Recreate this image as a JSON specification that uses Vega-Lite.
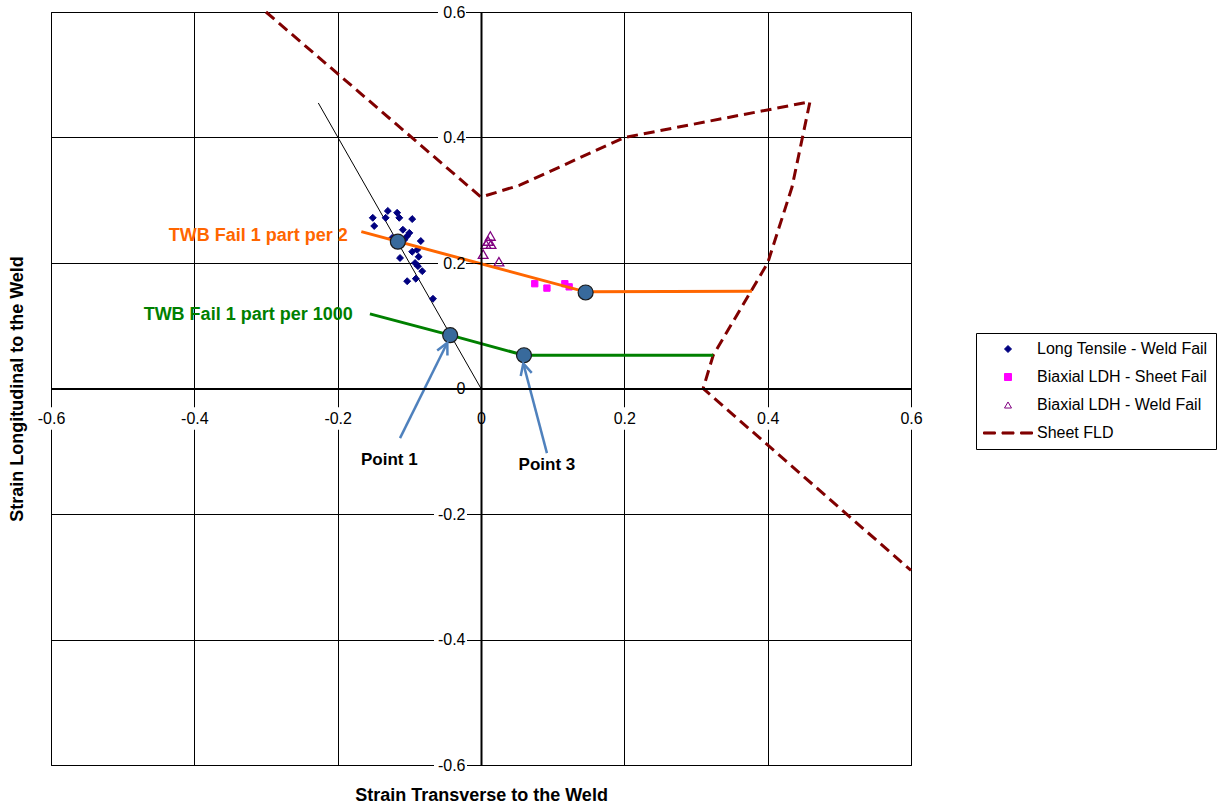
{
"$schema": "https://vega.github.io/schema/vega-lite/v6.json",
"width": 860, "height": 753,
"autosize": {"type": "none"},
"padding": {"left": 51, "top": 12, "right": 316, "bottom": 47},
"background": "white",
"config": {"view": {"stroke": "black", "strokeWidth": 1}, "font": "Liberation Sans"},
"datasets": {
 "ticks": [{"v": -0.6}, {"v": -0.4}, {"v": -0.2}, {"v": 0}, {"v": 0.2}, {"v": 0.4}, {"v": 0.6}],
 "fld": [
  {"i": 1, "x": -0.30, "y": 0.60},
  {"i": 2, "x": 0.0, "y": 0.305},
  {"i": 3, "x": 0.054, "y": 0.324},
  {"i": 4, "x": 0.20, "y": 0.40},
  {"i": 5, "x": 0.459, "y": 0.457},
  {"i": 6, "x": 0.434, "y": 0.321},
  {"i": 7, "x": 0.40, "y": 0.20},
  {"i": 8, "x": 0.324, "y": 0.053},
  {"i": 9, "x": 0.31, "y": 0.0},
  {"i": 10, "x": 0.60, "y": -0.29}
 ],
 "weld": [{"x": -0.227, "y": 0.455}, {"x": 0.0, "y": 0.0}],
 "scatter": [
  {"series": "Long Tensile - Weld Fail", "x": -0.151, "y": 0.272},
  {"series": "Long Tensile - Weld Fail", "x": -0.149, "y": 0.259},
  {"series": "Long Tensile - Weld Fail", "x": -0.130, "y": 0.283},
  {"series": "Long Tensile - Weld Fail", "x": -0.133, "y": 0.272},
  {"series": "Long Tensile - Weld Fail", "x": -0.117, "y": 0.280},
  {"series": "Long Tensile - Weld Fail", "x": -0.114, "y": 0.272},
  {"series": "Long Tensile - Weld Fail", "x": -0.096, "y": 0.270},
  {"series": "Long Tensile - Weld Fail", "x": -0.109, "y": 0.253},
  {"series": "Long Tensile - Weld Fail", "x": -0.100, "y": 0.248},
  {"series": "Long Tensile - Weld Fail", "x": -0.103, "y": 0.243},
  {"series": "Long Tensile - Weld Fail", "x": -0.084, "y": 0.235},
  {"series": "Long Tensile - Weld Fail", "x": -0.096, "y": 0.218},
  {"series": "Long Tensile - Weld Fail", "x": -0.089, "y": 0.221},
  {"series": "Long Tensile - Weld Fail", "x": -0.113, "y": 0.208},
  {"series": "Long Tensile - Weld Fail", "x": -0.087, "y": 0.210},
  {"series": "Long Tensile - Weld Fail", "x": -0.092, "y": 0.200},
  {"series": "Long Tensile - Weld Fail", "x": -0.088, "y": 0.195},
  {"series": "Long Tensile - Weld Fail", "x": -0.082, "y": 0.187},
  {"series": "Long Tensile - Weld Fail", "x": -0.103, "y": 0.171},
  {"series": "Long Tensile - Weld Fail", "x": -0.091, "y": 0.175},
  {"series": "Long Tensile - Weld Fail", "x": -0.067, "y": 0.143},
  {"series": "Long Tensile - Weld Fail", "x": -0.124, "y": 0.240},
  {"series": "Long Tensile - Weld Fail", "x": -0.107, "y": 0.237},
  {"series": "Biaxial LDH - Sheet Fail", "x": 0.075, "y": 0.167},
  {"series": "Biaxial LDH - Sheet Fail", "x": 0.092, "y": 0.160},
  {"series": "Biaxial LDH - Sheet Fail", "x": 0.117, "y": 0.167},
  {"series": "Biaxial LDH - Sheet Fail", "x": 0.123, "y": 0.162},
  {"series": "Biaxial LDH - Weld Fail", "x": 0.003, "y": 0.214},
  {"series": "Biaxial LDH - Weld Fail", "x": 0.007, "y": 0.230},
  {"series": "Biaxial LDH - Weld Fail", "x": 0.010, "y": 0.235},
  {"series": "Biaxial LDH - Weld Fail", "x": 0.013, "y": 0.243},
  {"series": "Biaxial LDH - Weld Fail", "x": 0.014, "y": 0.230},
  {"series": "Biaxial LDH - Weld Fail", "x": 0.025, "y": 0.202}
 ],
 "orange": [{"x": -0.167, "y": 0.250}, {"x": 0.146, "y": 0.154}, {"x": 0.378, "y": 0.155}],
 "green": [{"x": -0.155, "y": 0.119}, {"x": -0.043, "y": 0.085}, {"x": 0.060, "y": 0.053}, {"x": 0.324, "y": 0.053}],
 "circles": [{"x": -0.116, "y": 0.234}, {"x": 0.146, "y": 0.153}, {"x": -0.043, "y": 0.085}, {"x": 0.060, "y": 0.053}],
 "arrows": [
  {"arrow": "Point 1", "o": 0, "x": -0.113, "y": -0.079},
  {"arrow": "Point 1", "o": 1, "x": -0.047, "y": 0.073},
  {"arrow": "Point 3", "o": 0, "x": 0.092, "y": -0.103},
  {"arrow": "Point 3", "o": 1, "x": 0.059, "y": 0.040}
 ],
 "lab_orange": [{"label": "TWB Fail 1 part per 2", "x": -0.186, "y": 0.243}],
 "lab_green": [{"label": "TWB Fail 1 part per 1000", "x": -0.179, "y": 0.117}],
 "lab_points": [{"label": "Point 1", "x": -0.128, "y": -0.114}, {"label": "Point 3", "x": 0.092, "y": -0.122}]
},
"resolve": {"axis": {"x": "independent", "y": "independent"}},
"layer": [
 {
  "data": {"name": "ticks"},
  "mark": {"type": "point", "shape": "M-1,-0.75L1,-0.75L1,0.75L-1,0.75Z", "size": 900, "filled": true, "color": "white", "opacity": 1, "strokeWidth": 0, "yOffset": 30},
  "encoding": {
   "x": {"field": "v", "type": "quantitative", "scale": {"domain": [-0.6, 0.6], "nice": false, "zero": false},
    "axis": {"orient": "bottom", "zindex": 0, "values": [-0.6, -0.4, -0.2, 0, 0.2, 0.4, 0.6], "grid": true, "gridColor": "black", "gridWidth": 1, "gridOpacity": 1, "labels": false, "ticks": false, "domain": false, "title": "Strain Transverse  to the Weld", "titleFont": "Liberation Sans", "titleFontSize": 18, "titleFontWeight": "bold", "titleColor": "black", "titlePadding": 21}},
   "y": {"datum": 0, "type": "quantitative", "scale": {"domain": [-0.6, 0.6], "nice": false, "zero": false}, "axis": null}
  }
 },
 {
  "data": {"name": "ticks"},
  "transform": [{"filter": "datum.v < 0"}],
  "mark": {"type": "point", "shape": "M-1,-0.545L1,-0.545L1,0.545L-1,0.545Z", "size": 1089, "filled": true, "color": "white", "opacity": 1, "strokeWidth": 0, "xOffset": -30.5},
  "encoding": {
   "x": {"datum": 0, "type": "quantitative", "scale": {"domain": [-0.6, 0.6], "nice": false, "zero": false}, "axis": null},
   "y": {"field": "v", "type": "quantitative", "scale": {"domain": [-0.6, 0.6], "nice": false, "zero": false},
    "axis": {"orient": "left", "zindex": 0, "values": [-0.6, -0.4, -0.2, 0, 0.2, 0.4, 0.6], "grid": true, "gridColor": "black", "gridWidth": 1, "gridOpacity": 1, "labels": false, "ticks": false, "domain": false, "title": "Strain Longitudinal to the Weld", "titleFont": "Liberation Sans", "titleFontSize": 18, "titleFontWeight": "bold", "titleColor": "black", "titlePadding": 25}}
  }
 },
 {
  "data": {"name": "ticks"},
  "transform": [{"filter": "datum.v >= 0"}],
  "mark": {"type": "point", "shape": "M-1,-0.64L1,-0.64L1,0.64L-1,0.64Z", "size": 784, "filled": true, "color": "white", "opacity": 1, "strokeWidth": 0, "xOffset": -29},
  "encoding": {
   "x": {"datum": 0, "type": "quantitative", "scale": {"domain": [-0.6, 0.6], "nice": false, "zero": false}, "axis": null},
   "y": {"field": "v", "type": "quantitative", "scale": {"domain": [-0.6, 0.6], "nice": false, "zero": false}, "axis": null}
  }
 },
 {
  "data": {"name": "fld"},
  "mark": {"type": "line", "color": "#800000", "strokeWidth": 3, "strokeDash": [11, 6]},
  "encoding": {
   "x": {"field": "x", "type": "quantitative", "scale": {"domain": [-0.6, 0.6], "nice": false, "zero": false}, "axis": null},
   "y": {"field": "y", "type": "quantitative", "scale": {"domain": [-0.6, 0.6], "nice": false, "zero": false}, "axis": null},
   "order": {"field": "i", "type": "quantitative"}
  }
 },
 {
  "data": {"name": "weld"},
  "mark": {"type": "line", "color": "black", "strokeWidth": 1},
  "encoding": {
   "x": {"field": "x", "type": "quantitative", "scale": {"domain": [-0.6, 0.6], "nice": false, "zero": false},
    "axis": {"orient": "bottom", "zindex": 1, "offset": -376.5, "values": [-0.6, -0.4, -0.2, 0, 0.2, 0.4, 0.6], "grid": false, "title": null, "domain": true, "domainColor": "black", "domainWidth": 2, "ticks": true, "tickColor": "black", "tickSize": 6, "tickWidth": 1, "labelFont": "Liberation Sans", "labelFontSize": 16, "labelColor": "black", "labelPadding": 16, "labelFlush": false, "labelOverlap": false, "labelBound": false,
     "labelExpr": "datum.value == 0 ? '0' : (datum.value < 0 ? '-' + format(-datum.value, '.1f') : format(datum.value, '.1f'))"}},
   "y": {"field": "y", "type": "quantitative", "scale": {"domain": [-0.6, 0.6], "nice": false, "zero": false},
    "axis": {"orient": "left", "zindex": 1, "offset": -430, "values": [-0.6, -0.4, -0.2, 0, 0.2, 0.4, 0.6], "grid": false, "title": null, "domain": true, "domainColor": "black", "domainWidth": 2, "ticks": true, "tickColor": "black", "tickSize": 7, "tickWidth": 1, "labelFont": "Liberation Sans", "labelFontSize": 16, "labelColor": "black", "labelPadding": 9, "labelFlush": false, "labelOverlap": false, "labelBound": false,
     "labelExpr": "datum.value == 0 ? '0' : (datum.value < 0 ? '-' + format(-datum.value, '.1f') : format(datum.value, '.1f'))"}}
  }
 },
 {
  "data": {"name": "scatter"},
  "transform": [{"filter": "datum.series == 'Long Tensile - Weld Fail'"}],
  "mark": {"type": "point", "filled": true, "size": 48, "strokeWidth": 1, "opacity": 1},
  "encoding": {
   "x": {"field": "x", "type": "quantitative", "scale": {"domain": [-0.6, 0.6], "nice": false, "zero": false}, "axis": null},
   "y": {"field": "y", "type": "quantitative", "scale": {"domain": [-0.6, 0.6], "nice": false, "zero": false}, "axis": null},
   "fill": {"field": "series", "type": "nominal", "scale": {"domain": ["Long Tensile - Weld Fail", "Biaxial LDH - Sheet Fail", "Biaxial LDH - Weld Fail", "Sheet FLD"], "range": ["#000080", "#FF00FF", "transparent", "#800000"]},
    "legend": {"title": null, "orient": "none", "legendX": 925, "legendY": 321, "padding": 8, "strokeColor": "black", "fillColor": "white", "labelFont": "Liberation Sans", "labelFontSize": 16, "labelColor": "black", "labelLimit": 300, "symbolSize": 49, "symbolStrokeWidth": 1, "symbolOffset": 16, "labelOffset": 21, "rowPadding": 12, "cornerRadius": 0}},
   "stroke": {"field": "series", "type": "nominal", "scale": {"domain": ["Long Tensile - Weld Fail", "Biaxial LDH - Sheet Fail", "Biaxial LDH - Weld Fail", "Sheet FLD"], "range": ["#000080", "#FF00FF", "#800080", "#800000"]},
    "legend": {"title": null, "orient": "none", "legendX": 925, "legendY": 321, "padding": 8, "strokeColor": "black", "fillColor": "white", "labelFont": "Liberation Sans", "labelFontSize": 16, "labelColor": "black", "labelLimit": 300, "symbolSize": 49, "symbolStrokeWidth": 1, "symbolOffset": 16, "labelOffset": 21, "rowPadding": 12, "cornerRadius": 0}},
   "shape": {"field": "series", "type": "nominal", "scale": {"domain": ["Long Tensile - Weld Fail", "Biaxial LDH - Sheet Fail", "Biaxial LDH - Weld Fail", "Sheet FLD"], "range": ["diamond", "square", "triangle-up", "M-7,-0.3L-3.6,-0.3L-3.6,0.3L-7,0.3Z M-1.7,-0.3L1.7,-0.3L1.7,0.3L-1.7,0.3Z M3.6,-0.3L7,-0.3L7,0.3L3.6,0.3Z"]},
    "legend": {"title": null, "orient": "none", "legendX": 925, "legendY": 321, "padding": 8, "strokeColor": "black", "fillColor": "white", "labelFont": "Liberation Sans", "labelFontSize": 16, "labelColor": "black", "labelLimit": 300, "symbolSize": 49, "symbolStrokeWidth": 1, "symbolOffset": 16, "labelOffset": 21, "rowPadding": 12, "cornerRadius": 0}}
  }
 },
 {
  "data": {"name": "scatter"},
  "transform": [{"filter": "datum.series == 'Biaxial LDH - Sheet Fail'"}],
  "mark": {"type": "point", "filled": true, "size": 40, "strokeWidth": 1, "opacity": 1},
  "encoding": {
   "x": {"field": "x", "type": "quantitative", "scale": {"domain": [-0.6, 0.6], "nice": false, "zero": false}, "axis": null},
   "y": {"field": "y", "type": "quantitative", "scale": {"domain": [-0.6, 0.6], "nice": false, "zero": false}, "axis": null},
   "fill": {"field": "series", "type": "nominal", "scale": {"domain": ["Long Tensile - Weld Fail", "Biaxial LDH - Sheet Fail", "Biaxial LDH - Weld Fail", "Sheet FLD"], "range": ["#000080", "#FF00FF", "transparent", "#800000"]}},
   "stroke": {"field": "series", "type": "nominal", "scale": {"domain": ["Long Tensile - Weld Fail", "Biaxial LDH - Sheet Fail", "Biaxial LDH - Weld Fail", "Sheet FLD"], "range": ["#000080", "#FF00FF", "#800080", "#800000"]}},
   "shape": {"field": "series", "type": "nominal", "scale": {"domain": ["Long Tensile - Weld Fail", "Biaxial LDH - Sheet Fail", "Biaxial LDH - Weld Fail", "Sheet FLD"], "range": ["diamond", "square", "triangle-up", "M-7,-0.3L-3.6,-0.3L-3.6,0.3L-7,0.3Z M-1.7,-0.3L1.7,-0.3L1.7,0.3L-1.7,0.3Z M3.6,-0.3L7,-0.3L7,0.3L3.6,0.3Z"]}}
  }
 },
 {
  "data": {"name": "scatter"},
  "transform": [{"filter": "datum.series == 'Biaxial LDH - Weld Fail'"}],
  "mark": {"type": "point", "filled": true, "size": 95, "strokeWidth": 1.3, "opacity": 1},
  "encoding": {
   "x": {"field": "x", "type": "quantitative", "scale": {"domain": [-0.6, 0.6], "nice": false, "zero": false}, "axis": null},
   "y": {"field": "y", "type": "quantitative", "scale": {"domain": [-0.6, 0.6], "nice": false, "zero": false}, "axis": null},
   "fill": {"field": "series", "type": "nominal", "scale": {"domain": ["Long Tensile - Weld Fail", "Biaxial LDH - Sheet Fail", "Biaxial LDH - Weld Fail", "Sheet FLD"], "range": ["#000080", "#FF00FF", "transparent", "#800000"]}},
   "stroke": {"field": "series", "type": "nominal", "scale": {"domain": ["Long Tensile - Weld Fail", "Biaxial LDH - Sheet Fail", "Biaxial LDH - Weld Fail", "Sheet FLD"], "range": ["#000080", "#FF00FF", "#800080", "#800000"]}},
   "shape": {"field": "series", "type": "nominal", "scale": {"domain": ["Long Tensile - Weld Fail", "Biaxial LDH - Sheet Fail", "Biaxial LDH - Weld Fail", "Sheet FLD"], "range": ["diamond", "square", "triangle-up", "M-7,-0.3L-3.6,-0.3L-3.6,0.3L-7,0.3Z M-1.7,-0.3L1.7,-0.3L1.7,0.3L-1.7,0.3Z M3.6,-0.3L7,-0.3L7,0.3L3.6,0.3Z"]}}
  }
 },
 {
  "data": {"name": "orange"},
  "mark": {"type": "line", "color": "#FF6600", "strokeWidth": 3},
  "encoding": {
   "x": {"field": "x", "type": "quantitative", "scale": {"domain": [-0.6, 0.6], "nice": false, "zero": false}, "axis": null},
   "y": {"field": "y", "type": "quantitative", "scale": {"domain": [-0.6, 0.6], "nice": false, "zero": false}, "axis": null}
  }
 },
 {
  "data": {"name": "green"},
  "mark": {"type": "line", "color": "#008000", "strokeWidth": 3},
  "encoding": {
   "x": {"field": "x", "type": "quantitative", "scale": {"domain": [-0.6, 0.6], "nice": false, "zero": false}, "axis": null},
   "y": {"field": "y", "type": "quantitative", "scale": {"domain": [-0.6, 0.6], "nice": false, "zero": false}, "axis": null}
  }
 },
 {
  "data": {"name": "circles"},
  "mark": {"type": "point", "shape": "circle", "filled": true, "size": 225, "fill": "#386A9C", "stroke": "#1A1A1A", "strokeWidth": 1.2, "opacity": 1},
  "encoding": {
   "x": {"field": "x", "type": "quantitative", "scale": {"domain": [-0.6, 0.6], "nice": false, "zero": false}, "axis": null},
   "y": {"field": "y", "type": "quantitative", "scale": {"domain": [-0.6, 0.6], "nice": false, "zero": false}, "axis": null}
  }
 },
 {
  "data": {"name": "arrows"},
  "mark": {"type": "line", "color": "#4F81BD", "strokeWidth": 2.5},
  "encoding": {
   "x": {"field": "x", "type": "quantitative", "scale": {"domain": [-0.6, 0.6], "nice": false, "zero": false}, "axis": null},
   "y": {"field": "y", "type": "quantitative", "scale": {"domain": [-0.6, 0.6], "nice": false, "zero": false}, "axis": null},
   "detail": {"field": "arrow", "type": "nominal"},
   "order": {"field": "o", "type": "quantitative"}
  }
 },
 {
  "data": {"name": "arrows"},
  "transform": [{"filter": "datum.o == 1 && datum.arrow == 'Point 1'"}],
  "mark": {"type": "point", "shape": "M-0.5,1L0,0L0.5,1", "filled": false, "size": 520, "angle": 26, "color": "#4F81BD", "strokeWidth": 2.5, "opacity": 1},
  "encoding": {
   "x": {"field": "x", "type": "quantitative", "scale": {"domain": [-0.6, 0.6], "nice": false, "zero": false}, "axis": null},
   "y": {"field": "y", "type": "quantitative", "scale": {"domain": [-0.6, 0.6], "nice": false, "zero": false}, "axis": null}
  }
 },
 {
  "data": {"name": "arrows"},
  "transform": [{"filter": "datum.o == 1 && datum.arrow == 'Point 3'"}],
  "mark": {"type": "point", "shape": "M-0.5,1L0,0L0.5,1", "filled": false, "size": 520, "angle": 345, "color": "#4F81BD", "strokeWidth": 2.5, "opacity": 1},
  "encoding": {
   "x": {"field": "x", "type": "quantitative", "scale": {"domain": [-0.6, 0.6], "nice": false, "zero": false}, "axis": null},
   "y": {"field": "y", "type": "quantitative", "scale": {"domain": [-0.6, 0.6], "nice": false, "zero": false}, "axis": null}
  }
 },
 {
  "data": {"name": "lab_orange"},
  "mark": {"type": "text", "align": "right", "baseline": "middle", "font": "Liberation Sans", "fontSize": 18, "fontWeight": "bold", "color": "#FF6600"},
  "encoding": {
   "x": {"field": "x", "type": "quantitative", "scale": {"domain": [-0.6, 0.6], "nice": false, "zero": false}, "axis": null},
   "y": {"field": "y", "type": "quantitative", "scale": {"domain": [-0.6, 0.6], "nice": false, "zero": false}, "axis": null},
   "text": {"field": "label", "type": "nominal"}
  }
 },
 {
  "data": {"name": "lab_green"},
  "mark": {"type": "text", "align": "right", "baseline": "middle", "font": "Liberation Sans", "fontSize": 18, "fontWeight": "bold", "color": "#008000"},
  "encoding": {
   "x": {"field": "x", "type": "quantitative", "scale": {"domain": [-0.6, 0.6], "nice": false, "zero": false}, "axis": null},
   "y": {"field": "y", "type": "quantitative", "scale": {"domain": [-0.6, 0.6], "nice": false, "zero": false}, "axis": null},
   "text": {"field": "label", "type": "nominal"}
  }
 },
 {
  "data": {"name": "lab_points"},
  "mark": {"type": "text", "align": "center", "baseline": "middle", "font": "Liberation Sans", "fontSize": 17, "fontWeight": "bold", "color": "black"},
  "encoding": {
   "x": {"field": "x", "type": "quantitative", "scale": {"domain": [-0.6, 0.6], "nice": false, "zero": false}, "axis": null},
   "y": {"field": "y", "type": "quantitative", "scale": {"domain": [-0.6, 0.6], "nice": false, "zero": false}, "axis": null},
   "text": {"field": "label", "type": "nominal"}
  }
 }
]
}
